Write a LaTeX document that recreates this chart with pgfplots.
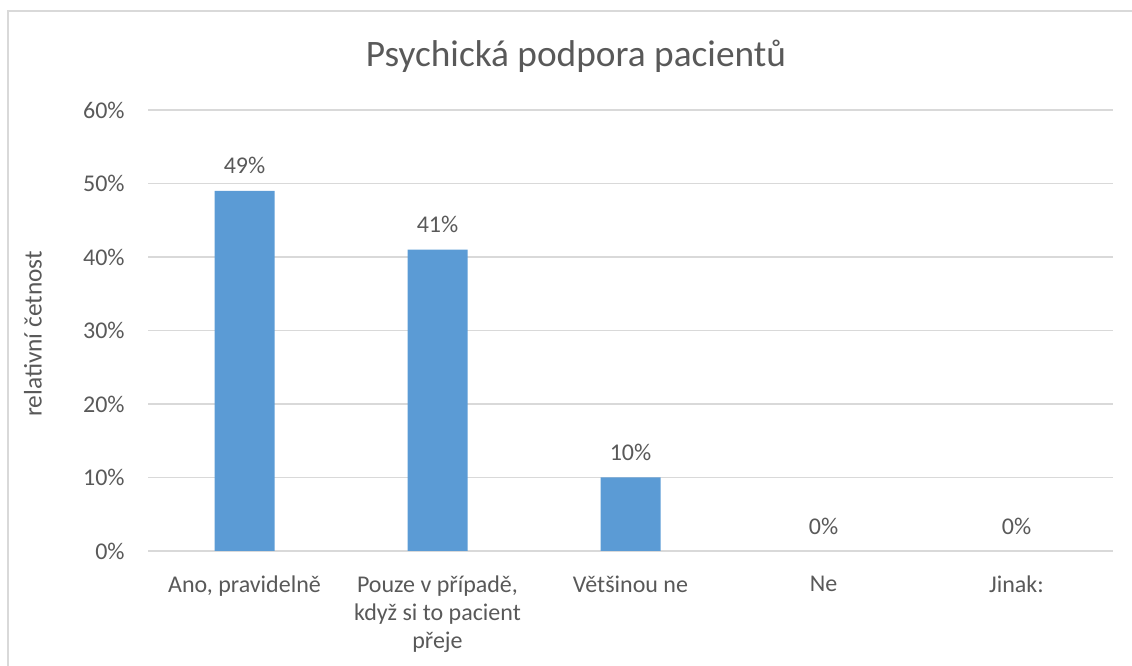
\documentclass[border=0pt]{standalone}
\usepackage{fontspec}
\setmainfont{Carlito}
\usepackage{pgfplots}
\pgfplotsset{compat=1.18}
\definecolor{barblue}{HTML}{5B9BD5}
\definecolor{txt}{HTML}{595959}
\definecolor{grd}{HTML}{D9D9D9}
\begin{document}
\begin{tikzpicture}[x=0.75pt,y=0.75pt]
\useasboundingbox (0,0) rectangle (1132,666);
\draw[grd, line width=1.2pt] (8,655) rectangle (1160,-30);
\node[txt, font=\fontsize{28}{32}\selectfont] at (576,610) {Psychická podpora pacientů};
\node[txt, rotate=90, font=\fontsize{19}{23}\selectfont] at (33,332) {relativní četnost};
\begin{axis}[
  at={(111pt,86.25pt)}, anchor=south west,
  scale only axis, width=723.75pt, height=330.75pt,
  ymin=0, ymax=60, ytick={0,10,...,60},
  xmin=-0.5, xmax=4.5, xtick={0,...,4},
  xticklabels={{Ano, pravidelně},{Pouze v případě,\\když si to pacient\\přeje},{Většinou ne},{Ne},{Jinak:}},
  axis x line*=bottom, axis y line*=left,
  y axis line style={draw=none},
  x axis line style={grd, line width=1.2pt},
  major tick length=0pt,
  ymajorgrids, grid style={grd, line width=0.9pt},
  /pgf/number format/assume math mode=true,
  yticklabel={\pgfmathprintnumber{\tick}\%},
  ticklabel style={txt, font=\fontsize{18}{21}\selectfont},
  yticklabel style={xshift=-14pt},
  xticklabel style={align=center, yshift=-15pt},
  ybar, bar width=45pt, bar shift=0pt,
  nodes near coords={\pgfmathprintnumber{\pgfplotspointmeta}\%},
  nodes near coords style={txt, font=\fontsize{18}{21}\selectfont, yshift=9pt},
]
\addplot[fill=barblue, draw=none] coordinates {(0,49) (1,41) (2,10)};
\addplot[fill=none, draw=none] coordinates {(3,0) (4,0)};
\end{axis}
\end{tikzpicture}
\end{document}
